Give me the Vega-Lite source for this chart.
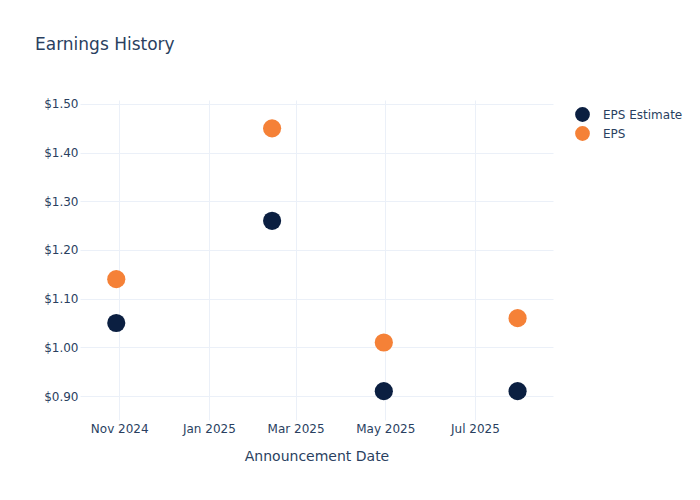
{
  "$schema": "https://vega.github.io/schema/vega-lite/v6.json",
  "width": 473,
  "height": 320,
  "autosize": {"type": "none"},
  "padding": {"left": 80, "top": 100, "right": 147, "bottom": 80},
  "background": "white",
  "config": {
    "view": {"stroke": null},
    "font": "DejaVu Sans",
    "axis": {
      "labelColor": "#2a3f5f",
      "labelFont": "DejaVu Sans",
      "labelFontSize": 12,
      "gridColor": "#ebf0f8",
      "gridWidth": 1,
      "domain": false,
      "ticks": false,
      "titleColor": "#2a3f5f",
      "titleFont": "DejaVu Sans",
      "titleFontWeight": "normal"
    }
  },
  "title": {
    "text": "Earnings History",
    "anchor": "start",
    "frame": "group",
    "dx": -45,
    "offset": 44,
    "fontSize": 17,
    "fontWeight": "normal",
    "font": "DejaVu Sans",
    "color": "#2a3f5f"
  },
  "data": {
    "values": [
      {"date": "2024-10-30", "series": "EPS Estimate", "value": 1.05},
      {"date": "2025-02-13", "series": "EPS Estimate", "value": 1.26},
      {"date": "2025-04-30", "series": "EPS Estimate", "value": 0.91},
      {"date": "2025-07-30", "series": "EPS Estimate", "value": 0.91},
      {"date": "2024-10-30", "series": "EPS", "value": 1.14},
      {"date": "2025-02-13", "series": "EPS", "value": 1.45},
      {"date": "2025-04-30", "series": "EPS", "value": 1.01},
      {"date": "2025-07-30", "series": "EPS", "value": 1.06}
    ]
  },
  "mark": {"type": "circle", "opacity": 1, "size": 330},
  "encoding": {
    "x": {
      "field": "date",
      "type": "temporal",
      "scale": {
        "type": "utc",
        "domain": [
          {"year": 2024, "month": 10, "date": 5, "hours": 8, "utc": true},
          {"year": 2025, "month": 8, "date": 23, "hours": 2, "utc": true}
        ]
      },
      "axis": {
        "values": [
          {"year": 2024, "month": 11, "date": 1, "utc": true},
          {"year": 2025, "month": 1, "date": 1, "utc": true},
          {"year": 2025, "month": 3, "date": 1, "utc": true},
          {"year": 2025, "month": 5, "date": 1, "utc": true},
          {"year": 2025, "month": 7, "date": 1, "utc": true}
        ],
        "labelExpr": "utcFormat(datum.value, '%b %Y')",
        "labelPadding": 3,
        "title": "Announcement Date",
        "titleFontSize": 14,
        "titlePadding": 15,
        "labelFlush": false,
        "labelOverlap": false
      }
    },
    "y": {
      "field": "value",
      "type": "quantitative",
      "scale": {"domain": [0.8507, 1.5082], "zero": false, "nice": false},
      "axis": {
        "values": [0.9, 1.0, 1.1, 1.2, 1.3, 1.4, 1.5],
        "format": "$.2f",
        "labelPadding": 2,
        "title": null
      }
    },
    "color": {
      "field": "series",
      "type": "nominal",
      "scale": {"domain": ["EPS Estimate", "EPS"], "range": ["#0b1f41", "#f58137"]},
      "legend": {
        "orient": "none",
        "legendX": 495,
        "legendY": 7,
        "title": null,
        "padding": 0,
        "symbolType": "circle",
        "symbolSize": 218,
        "symbolStrokeWidth": 0,
        "symbolOpacity": 1,
        "labelFont": "DejaVu Sans",
        "labelFontSize": 12,
        "labelColor": "#2a3f5f",
        "labelOffset": 13,
        "rowPadding": 4
      }
    }
  }
}
